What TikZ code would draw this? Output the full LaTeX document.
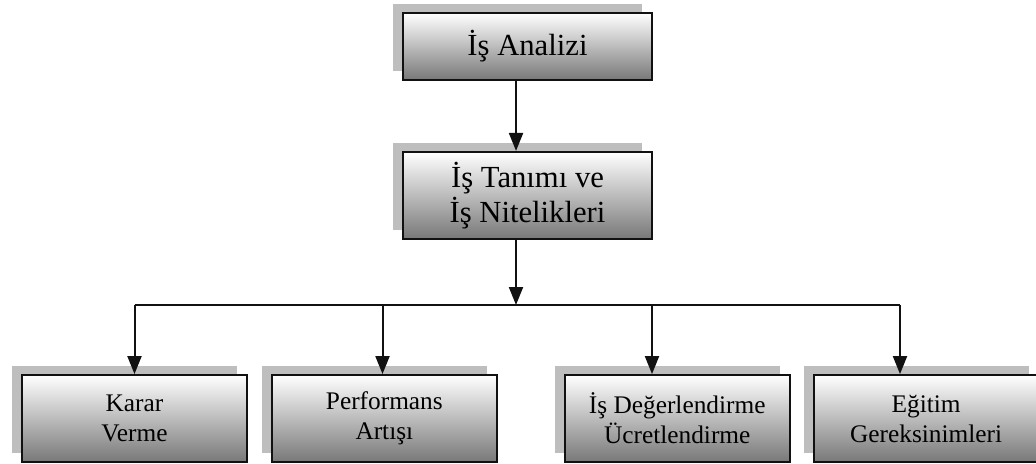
\documentclass[tikz,border=0pt]{standalone}
\usepackage{fontspec}
\setmainfont{Liberation Serif}
\usepackage{xcolor}
\usepackage{tikz}
\usetikzlibrary{positioning, arrows.meta, shadows}
\definecolor{ink}{HTML}{111111}
\definecolor{golge}{HTML}{BEBEBE}
\definecolor{acik}{HTML}{DADADA}
\definecolor{koyu}{HTML}{787878}

\begin{document}
\begin{tikzpicture}[
    x=0.75pt, y=-0.75pt,
    kutu/.style={draw=ink, line width=1.4pt, top color=white, middle color=acik,
                 bottom color=koyu, align=center, inner sep=0pt,
                 minimum width=186.75pt, minimum height=65.25pt,
                 font=\fontsize{23}{26.25}\selectfont,
                 general shadow={fill=golge, shadow xshift=-7.5pt, shadow yshift=6.75pt}},
    ustkutu/.style={kutu, minimum height=50.25pt},
    altkutu/.style={kutu, minimum width=168.75pt,
                    font=\fontsize{19}{22.5}\selectfont},
    ok/.style={-{Triangle[length=13.5pt, width=10.5pt]}, line width=1.5pt, draw=ink},
    hat/.style={line width=1.5pt, draw=ink}]

  \useasboundingbox (0,0) rectangle (1036,464);

  \node[ustkutu] (analiz) at (527.5,46.5) {İş Analizi};
  \node[kutu, below=52.5pt of analiz] (tanim) {İş Tanımı ve\\İş Nitelikleri};

  \node[altkutu] (karar) at (134.5,418.5) {Karar\\Verme};
  \node[altkutu, right=17.25pt of karar] (perf)   {Performans\\Artışı};
  \node[altkutu, right=49.5pt of perf]   (deger)  {İş Değerlendirme\\Ücretlendirme};
  \node[altkutu, right=16.5pt of deger]  (egitim) {Eğitim\\Gereksinimleri};

  % ana akis
  \coordinate (kavsak) at (516,305);
  \draw[ok] ([xshift=-8.6pt]analiz.south) -- ([xshift=-8.6pt]tanim.north);
  \draw[ok] (kavsak |- tanim.south) -- (kavsak);

  % dallar
  \foreach \ad/\px in {karar/134.5, perf/382.5, deger/652, egitim/900}
    \coordinate (b\ad) at (\px,305);
  \draw[hat] (bkarar) -- (begitim);
  \foreach \ad in {karar, perf, deger, egitim}
    \draw[ok] (b\ad) -- (b\ad |- \ad.north);
\end{tikzpicture}
\end{document}
